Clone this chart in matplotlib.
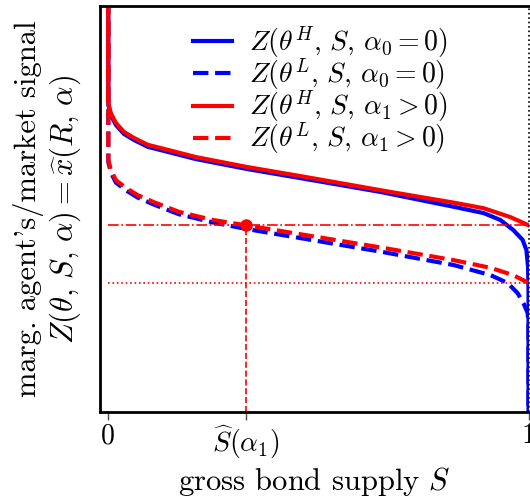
import numpy as np
import matplotlib
matplotlib.use("Agg")
import matplotlib.pyplot as plt

plt.rcParams["font.family"] = "serif"
plt.rcParams["font.serif"] = ["cmr10"]
plt.rcParams["mathtext.fontset"] = "cm"
plt.rcParams["axes.unicode_minus"] = False
plt.rcParams["axes.formatter.use_mathtext"] = True

# curves (S, Z)
S_H0 = [0.0008, 0.001, 0.007, 0.019, 0.038, 0.062, 0.095, 0.126, 0.209, 0.328, 0.458, 0.648, 0.815,
        0.893, 0.933, 0.964, 0.986, 0.995, 0.999, 1.0, 1.0]
Z_H0 = [1.10, 0.756, 0.731, 0.707, 0.685, 0.670, 0.653, 0.645, 0.623, 0.599, 0.576, 0.542, 0.507,
        0.490, 0.473, 0.448, 0.424, 0.399, 0.357, 0.300, 0.0]

S_L0 = [0.0008, 0.001, 0.007, 0.019, 0.043, 0.071, 0.109, 0.169, 0.249, 0.328, 0.648, 0.822,
        0.910, 0.950, 0.974, 0.988, 0.998, 1.0, 1.0]
Z_L0 = [1.10, 0.615, 0.590, 0.565, 0.546, 0.528, 0.511, 0.487, 0.467, 0.451, 0.395, 0.362,
        0.337, 0.318, 0.293, 0.268, 0.244, 0.209, 0.0]

S_H1 = [0.0008, 0.001, 0.007, 0.019, 0.038, 0.062, 0.095, 0.126, 0.209, 0.328, 0.458, 0.672,
        0.815, 0.893, 0.957, 1.0]
Z_H1 = [1.10, 0.761, 0.736, 0.712, 0.690, 0.675, 0.658, 0.650, 0.628, 0.604, 0.581, 0.542,
        0.517, 0.502, 0.480, 0.460]

S_L1 = [0.0008, 0.001, 0.007, 0.019, 0.043, 0.071, 0.109, 0.169, 0.249, 0.328, 0.656, 0.822,
        0.910, 0.964, 1.0]
Z_L1 = [1.10, 0.621, 0.596, 0.571, 0.552, 0.534, 0.517, 0.493, 0.473, 0.460, 0.404, 0.374,
        0.355, 0.337, 0.318]

S_hat = 0.328
Z_H1_end = 0.460
Z_L1_end = 0.318

fig = plt.figure(figsize=(5.3, 5.03), dpi=100)
ax = fig.add_axes([99.5 / 530, 91 / 503, 429 / 530, 406 / 503])

ax.plot(S_H0, Z_H0, color="blue", lw=3, label=r"$Z(\theta^H,\,S,\,\alpha_0=0)$")
ax.plot(S_L0, Z_L0, color="blue", lw=3, ls="--", label=r"$Z(\theta^L,\,S,\,\alpha_0=0)$")
ax.plot(S_H1, Z_H1, color="red", lw=3, label=r"$Z(\theta^H,\,S,\,\alpha_1>0)$")
ax.plot(S_L1, Z_L1, color="red", lw=3, ls="--", label=r"$Z(\theta^L,\,S,\,\alpha_1>0)$")

ax.plot([0, 1], [Z_H1_end, Z_H1_end], color="red", lw=1.2, ls="-.")
ax.plot([0, 1], [Z_L1_end, Z_L1_end], color="red", lw=1.2, ls=":")
ax.plot([S_hat, S_hat], [0, Z_H1_end], color="red", lw=1.2, ls="--")
ax.plot([S_hat], [Z_H1_end], "o", color="red", ms=8)
ax.axvline(1, color="k", lw=1.2, ls=":", clip_on=False)

ax.set_xlim(-0.02, 1.0)
ax.set_ylim(0, 1)
ax.set_yticks([])
ax.set_xticks([0, S_hat, 1])
ax.set_xticklabels(["0", r"$\widehat{S}(\alpha_1)$", "1"], fontsize=20)
ax.tick_params(axis="x", length=6, width=1, color="0.3", pad=2)
ax.spines["right"].set_visible(False)
for s in ["left", "bottom", "top"]:
    ax.spines[s].set_linewidth(2)

ax.set_xlabel(r"gross bond supply $S$", fontsize=22, labelpad=3)
ax.set_ylabel("marg. agent's/market signal\n" + r"$Z(\theta,\,S,\,\alpha)=\widehat{x}(R,\,\alpha)$",
              fontsize=22, labelpad=12, linespacing=1.15)

ax.legend(loc="upper left", bbox_to_anchor=(0.218, 0.955), frameon=False, fontsize=20,
          handlelength=1.4, handletextpad=0.6, borderaxespad=0, borderpad=0, labelspacing=-0.15)

fig.savefig("out.png", dpi=100)
